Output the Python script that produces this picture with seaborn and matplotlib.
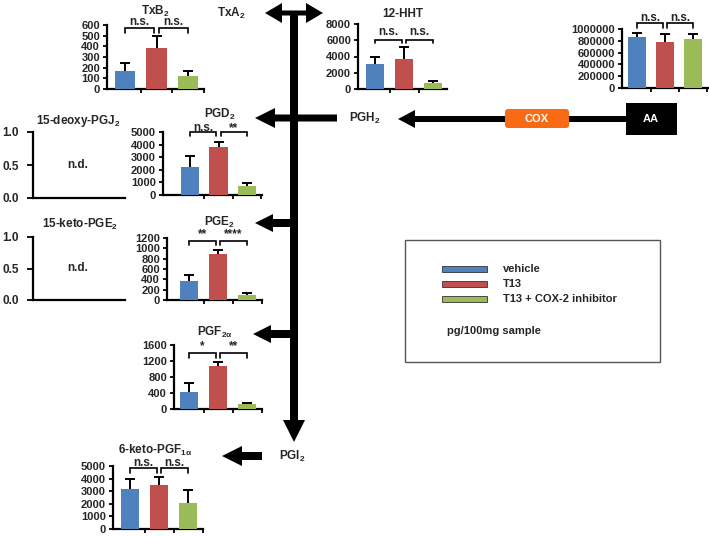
import numpy as np
import pandas as pd
import matplotlib
matplotlib.use("Agg")
import matplotlib.pyplot as plt
import seaborn as sns
from matplotlib.patches import FancyArrow, Rectangle, FancyBboxPatch

# ---------------- data ----------------
groups = ["vehicle", "T13", "T13 + COX-2 inhibitor"]
colors = ["#4F81BD", "#C0504D", "#9BBB59"]

txb2_mean = [165, 382, 124]
txb2_err = [83, 115, 47]
hht_mean = [3070, 3650, 750]
hht_err = [830, 1500, 250]
aa_mean = [864000, 774000, 836000]
aa_err = [68000, 141000, 79000]
pgd2_mean = [2200, 3800, 700]
pgd2_err = [900, 400, 250]
pge2_mean = [365, 897, 96]
pge2_err = [115, 65, 32]
pgf2a_mean = [430, 1080, 115]
pgf2a_err = [230, 100, 40]
kpgf1a_mean = [3200, 3470, 2100]
kpgf1a_err = [800, 660, 980]

txb2_sig = ["n.s.", "n.s."]
hht_sig = ["n.s.", "n.s."]
aa_sig = ["n.s.", "n.s."]
pgd2_sig = ["n.s.", "**"]
pge2_sig = ["**", "****"]
pgf2a_sig = ["*", "**"]
kpgf1a_sig = ["n.s.", "n.s."]

# ---------------- style ----------------
sns.set_style("white")
plt.rcParams["font.family"] = ["Liberation Sans", "DejaVu Sans"]
plt.rcParams["font.weight"] = "bold"
plt.rcParams["mathtext.fontset"] = "custom"
plt.rcParams["mathtext.rm"] = "Liberation Sans:bold"
plt.rcParams["mathtext.it"] = "Liberation Sans:bold"
plt.rcParams["mathtext.bf"] = "Liberation Sans:bold"
plt.rcParams["mathtext.sf"] = "Liberation Sans:bold"

W, H = 709, 537
fig = plt.figure(figsize=(W / 100, H / 100), dpi=100)
fig.patch.set_facecolor("white")

ov = fig.add_axes([0, 0, 1, 1])
ov.set_xlim(0, W)
ov.set_ylim(H, 0)
ov.axis("off")

TICK_FS = 8
SIG_FS = 8.5
TITLE_FS = 8.5


def px_axes(l, r, t, b):
    ax = fig.add_axes([l / W, 1 - b / H, (r - l) / W, (b - t) / H])
    ax.patch.set_alpha(0)
    return ax


def style_axes(ax):
    for s in ["top", "right"]:
        ax.spines[s].set_visible(False)
    for s in ["left", "bottom"]:
        ax.spines[s].set_linewidth(1.6)
        ax.spines[s].set_color("black")
    ax.tick_params(axis="both", direction="out", length=3, width=1.3,
                   color="black", labelsize=TICK_FS, pad=2, left=True, bottom=True)
    ax.set_xlabel("")
    ax.set_ylabel("")


def bar_panel(l, r, t, b, c0, sp, means, errs, ymax, yticks, sig, yb):
    ax = px_axes(l, r, t, b)
    df = pd.DataFrame({"group": groups, "value": means})
    sns.barplot(data=df, x="group", y="value", hue="group", palette=colors,
                width=0.65, errorbar=None, legend=False, saturation=1, ax=ax)
    for p in ax.patches:
        p.set_zorder(3)
        p.set_edgecolor("none")
    ax.errorbar(range(3), means, yerr=errs, fmt="none", ecolor="black",
                elinewidth=1.4, capsize=3.5, capthick=1.4, zorder=2)
    ax.set_xlim((l - c0) / sp, (r - c0) / sp)
    ax.set_ylim(0, ymax)
    ax.set_yticks(yticks)
    ax.set_yticklabels([f"{v:d}" for v in yticks], fontweight="bold")
    xt = [v for v in [0.5, 1.5, 2.5] if v <= (r - c0) / sp + 1e-6]
    ax.set_xticks(xt)
    ax.set_xticklabels([""] * len(xt))
    style_axes(ax)
    tr = ax.get_xaxis_transform()
    yh, yl, yt = yb
    for (xa, xb), s in zip([(0.0, 0.92), (1.08, 2.0)], sig):
        ax.plot([xa, xa, xb, xb], [yl, yh, yh, yl], color="black", lw=1.2,
                transform=tr, clip_on=False, solid_joinstyle="miter")
        ax.text((xa + xb) / 2, yt, s, transform=tr, ha="center", va="center",
                fontsize=SIG_FS, fontweight="bold")
    return ax


def empty_panel(l, r, t, b):
    ax = px_axes(l, r, t, b)
    ax.set_xlim(0, 1)
    ax.set_ylim(0, 1)
    ax.set_yticks([0, 0.5, 1.0])
    ax.set_yticklabels(["0.0", "0.5", "1.0"], fontweight="bold")
    ax.set_xticks([])
    style_axes(ax)
    ax.tick_params(axis="y", length=4, pad=6, labelsize=8.5)
    ax.text(0.49, 0.5, "n.d.", transform=ax.transAxes, ha="center", va="center",
            fontsize=SIG_FS, fontweight="bold")
    return ax


# ---------------- panels ----------------
bar_panel(107, 204, 25, 89, 125, 31.5, txb2_mean, txb2_err, 600,
          [0, 100, 200, 300, 400, 500, 600], txb2_sig, (0.953, 0.875, 1.04))
bar_panel(358, 447, 24, 89, 375, 29, hht_mean, hht_err, 8000,
          [0, 2000, 4000, 6000, 8000], hht_sig, (0.754, 0.708, 0.88))
bar_panel(622, 708, 29, 88, 637, 28, aa_mean, aa_err, 1000000,
          [0, 200000, 400000, 600000, 800000, 1000000], aa_sig, (1.10, 1.017, 1.19))
bar_panel(163, 262, 132, 195, 190, 28.5, pgd2_mean, pgd2_err, 5000,
          [0, 1000, 2000, 3000, 4000, 5000], pgd2_sig, (1.0, 0.937, 1.065))
bar_panel(167, 262, 238, 300, 189, 29, pge2_mean, pge2_err, 1200,
          [0, 200, 400, 600, 800, 1000, 1200], pge2_sig, (0.95, 0.887, 1.06))
bar_panel(174, 262, 345, 409, 189, 29, pgf2a_mean, pgf2a_err, 1600,
          [0, 400, 800, 1200, 1600], pgf2a_sig, (0.875, 0.797, 0.98))
bar_panel(113, 203, 466, 529, 130, 29, kpgf1a_mean, kpgf1a_err, 5000,
          [0, 1000, 2000, 3000, 4000, 5000], kpgf1a_sig, (0.968, 0.889, 1.055))

empty_panel(33, 125, 132, 198)
empty_panel(33, 125, 237, 300)

# ---------------- titles ----------------
titles = [
    (155, 11, "TxB$_2$"),
    (403, 14, "12-HHT"),
    (78, 121, "15-deoxy-PGJ$_2$"),
    (220, 114, "PGD$_2$"),
    (80, 224, "15-keto-PGE$_2$"),
    (220, 222, "PGE$_2$"),
    (215, 332, r"PGF$_{2\alpha}$"),
    (155, 450, r"6-keto-PGF$_{1\alpha}$"),
]
for x, y, s in titles:
    ov.text(x, y, s, ha="center", va="center", fontsize=TITLE_FS, fontweight="bold")

# ---------------- pathway arrows ----------------
def arrow(x0, y0, x1, y1, w, hw, hl):
    ov.add_patch(FancyArrow(x0, y0, x1 - x0, y1 - y0, width=w, head_width=hw,
                            head_length=hl, length_includes_head=True,
                            color="black", lw=0))

arrow(294, 13, 294, 442, 8, 22, 22)
arrow(294, 13, 265, 13, 5, 20, 17)
arrow(294, 13, 323, 13, 5, 20, 17)
arrow(337, 118, 255, 118, 7, 20, 20)
arrow(294, 223, 255, 223, 8, 18, 18)
arrow(294, 334, 253, 334, 8, 18, 18)
arrow(262, 456, 222, 456, 8, 20, 20)
arrow(627, 119, 398, 119, 6, 18, 17)

ov.add_patch(FancyBboxPatch((505, 109), 64, 19,
                            boxstyle="round,pad=0,rounding_size=3",
                            fc="#F96A14", ec="none"))
ov.text(537, 119, "COX", color="white", ha="center", va="center",
        fontsize=8, fontweight="bold")
ov.add_patch(Rectangle((626, 103), 51, 32, fc="black", ec="none"))
ov.text(651, 119, "AA", color="white", ha="center", va="center",
        fontsize=8, fontweight="bold")

ov.text(231, 13, "TxA$_2$", ha="center", va="center", fontsize=8.5, fontweight="bold")
ov.text(365, 118, "PGH$_2$", ha="center", va="center", fontsize=8.5, fontweight="bold")
ov.text(292, 456, "PGI$_2$", ha="center", va="center", fontsize=8.5, fontweight="bold")

# ---------------- legend box ----------------
ov.add_patch(Rectangle((405, 240), 255, 122, fill=False, ec="#555555", lw=1))
for y, c, g in zip([269, 284, 299], colors, groups):
    ov.add_patch(Rectangle((442, y - 3), 45, 6, fc=c, ec="#333333", lw=0.6))
    ov.text(503, y, g, ha="left", va="center", fontsize=8, fontweight="bold")
ov.text(447, 331, "pg/100mg sample", ha="left", va="center", fontsize=8,
        fontweight="bold")

fig.savefig("out.png", dpi=100)
